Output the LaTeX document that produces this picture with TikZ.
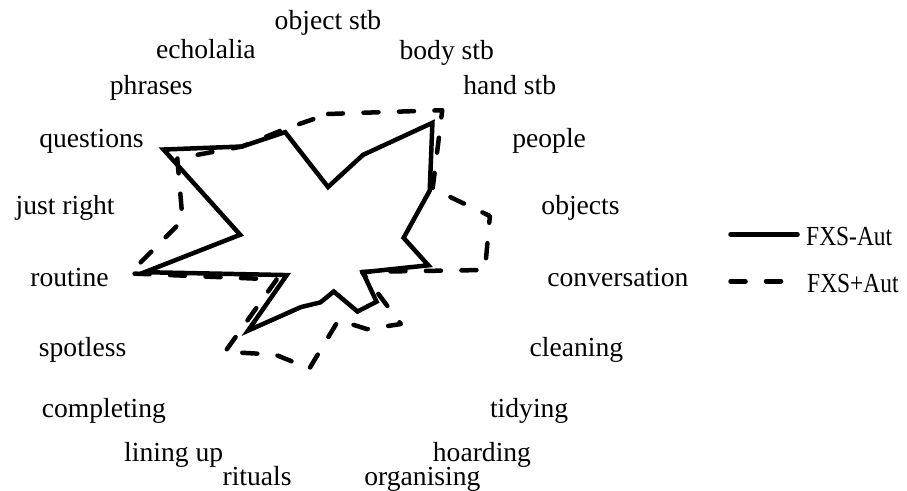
\documentclass[tikz,border=0pt]{standalone}
\usepackage{fontspec}
\setmainfont{Liberation Serif}
\newfontfamily\legfont[FakeStretch=0.85]{Liberation Serif}
\begin{document}
\begin{tikzpicture}[x=1pt,y=1pt,
  lbl/.style={inner sep=0pt, font=\fontsize{27.6}{33}\selectfont, text height=27.6pt, text depth=5.5pt},
  leglbl/.style={inner sep=0pt, font=\legfont\fontsize{27.6}{33}\selectfont, text height=27.6pt, text depth=5.5pt},
  serA/.style={line width=4.5pt, line join=miter, line cap=butt},
  serB/.style={line width=4.5pt, line cap=round, line join=round, dash pattern=on 15pt off 20.5pt},
  legA/.style={line width=4.5pt, line cap=round},
  legB/.style={line width=4.5pt, line cap=round, dash pattern=on 15pt off 20.5pt}]
\useasboundingbox (0,0) rectangle (907,490);
\begin{scope}[shift={(328,233)}]
  % axis labels
  \node[lbl, anchor=south] (l0) at (90:222) {object stb};
  \node[lbl, anchor=west] (l1) at (71.053:220) {body stb};
  \node[lbl, anchor=west] (l2) at (52.105:220) {hand stb};
  \node[lbl, anchor=west] (l3) at (33.158:220) {people};
  \node[lbl, anchor=west] (l4) at (14.211:220) {objects};
  \node[lbl, anchor=west] (l5) at (-4.737:220) {conversation};
  \node[lbl, anchor=west] (l6) at (-23.684:220) {cleaning};
  \node[lbl, anchor=west] (l7) at (-42.632:220) {tidying};
  \node[lbl, anchor=west] (l8) at (-61.579:220) {hoarding};
  \node[lbl, anchor=west] (l9) at (-80.526:220) {organising};
  \node[lbl, anchor=east] (l10) at (-99.474:220) {rituals};
  \node[lbl, anchor=east] (l11) at (-118.421:220) {lining up};
  \node[lbl, anchor=east] (l12) at (-137.368:220) {completing};
  \node[lbl, anchor=east] (l13) at (-156.316:220) {spotless};
  \node[lbl, anchor=east] (l14) at (-175.263:220) {routine};
  \node[lbl, anchor=east] (l15) at (165.789:220) {just right};
  \node[lbl, anchor=east] (l16) at (146.842:220) {questions};
  \node[lbl, anchor=east] (l17) at (127.895:220) {phrases};
  \node[lbl, anchor=east] (l18) at (108.947:222) {echolalia};
  % FXS-Aut series
  \draw[serA] (90:70) -- (71.053:108) -- (52.105:170) -- (33.158:121.5) -- (14.211:78)
    -- (-4.737:100.7) -- (-23.684:38) -- (-42.632:66) -- (-61.579:62) -- (-80.526:35)
    -- (-99.474:46) -- (-118.421:57) -- (-137.368:108.7) -- (-156.316:45) -- (-175.263:184)
    -- (165.789:90.6) -- (146.842:196.5) -- (127.895:140) -- (108.947:132) -- cycle;
  % FXS+Aut series
  \draw[serB] (90:143) -- (71.053:153) -- (52.105:186) -- (33.158:125) -- (14.211:167)
    -- (-4.737:157.5) -- (-23.684:37) -- (-42.632:99) -- (-61.579:82) -- (-80.526:64)
    -- (-99.474:113) -- (-118.421:111) -- (-137.368:140) -- (-156.316:56) -- (-175.263:199)
    -- (165.789:150) -- (146.842:180) -- (127.895:140) -- (108.947:135) -- cycle;
\end{scope}
% legend
\coordinate (la1) at (730.5,255.5);
\coordinate (la2) at (797.5,255.5);
\coordinate (lb1) at (730.5,208.7);
\coordinate (lb2) at (782,208.7);
\draw[legA] (la1) -- (la2);
\draw[legB] (lb1) -- (lb2);
\node[leglbl, anchor=west] (ta) at (806,255.5) {FXS-Aut};
\node[leglbl, anchor=west] (tb) at (807,208.7) {FXS+Aut};
\end{tikzpicture}
\end{document}
